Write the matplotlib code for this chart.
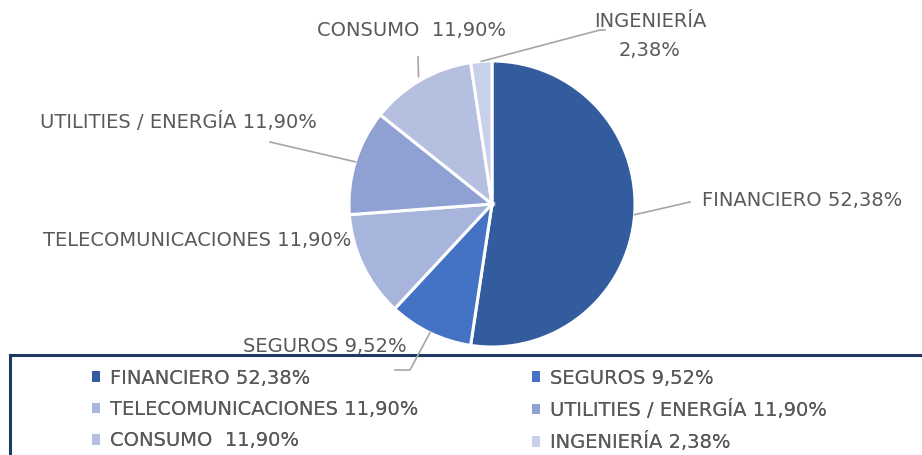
import numpy as np
import matplotlib
matplotlib.use("Agg")
import matplotlib.pyplot as plt
from matplotlib.patches import Rectangle, Patch

sectors = ["FINANCIERO", "SEGUROS", "TELECOMUNICACIONES", "UTILITIES / ENERGÍA", "CONSUMO", "INGENIERÍA"]
shares = [52.38, 9.52, 11.90, 11.90, 11.90, 2.38]
pct_text = ["52,38%", "9,52%", "11,90%", "11,90%", "11,90%", "2,38%"]
colors = ["#335C9E", "#4472C4", "#A7B4DC", "#8FA1D3", "#B5C0E1", "#C9D1EA"]

plt.rcParams['font.family'] = ['DejaVu Sans']
txt_col = "#595959"
fs = 14

W, H = 922, 455
fig = plt.figure(figsize=(W / 100, H / 100), dpi=100)

# pie placement (pixels): centre and radius
cx, cy, r = 492, 204, 143
ax = fig.add_axes([(cx - r) / W, (H - cy - r) / H, 2 * r / W, 2 * r / H])
wedges, _ = ax.pie(shares, colors=colors, startangle=90, counterclock=False,
                   wedgeprops=dict(edgecolor="white", linewidth=2.2))
ax.set_xlim(-1, 1)
ax.set_ylim(-1, 1)
ax.set_aspect("equal")
ax.axis("off")

def fxy(px, py):
    return px / W, 1 - py / H

# label text positions (pixels) and leader paths
labels = [
    dict(txt="FINANCIERO 52,38%", pos=(802, 200), lead=[(690, 202)], gap=0),
    dict(txt="SEGUROS 9,52%", pos=(325, 347), lead=[(410, 370), (395, 370)], gap=0),
    dict(txt="TELECOMUNICACIONES 11,90%", pos=(197, 240), lead=None, gap=0),
    dict(txt="UTILITIES / ENERGÍA 11,90%", pos=(178, 122), lead=[(270, 142)], gap=0),
    dict(txt="CONSUMO  11,90%", pos=(411, 30), lead=[(418, 57)], gap=4),
    dict(txt="INGENIERÍA\n2,38%", pos=(650, 36), lead=[(600, 30), (605, 30)], gap=0),
]

for w, lab in zip(wedges, labels):
    ang = np.deg2rad((w.theta1 + w.theta2) / 2)
    x0 = cx + (r + lab["gap"]) * np.cos(ang)
    y0 = cy - (r + lab["gap"]) * np.sin(ang)
    fig.text(*fxy(*lab["pos"]), lab["txt"], ha="center", va="center",
             fontsize=fs, color=txt_col, linespacing=1.7)
    if lab["lead"]:
        pts = [(x0, y0)] + lab["lead"]
        xs = [p[0] / W for p in pts]
        ys = [1 - p[1] / H for p in pts]
        fig.add_artist(plt.Line2D(xs, ys, color="#A6A6A6", lw=1.2))

# legend frame
fig.add_artist(Rectangle(fxy(10, 470), 930 / W, 115 / H, fill=False,
                         edgecolor="#1F3864", lw=2.2, transform=fig.transFigure,
                         clip_on=False))

handles = [Patch(facecolor=c, edgecolor="none") for c in colors]
leg_labels = [f"{s} {p}" for s, p in zip(sectors, pct_text)]
leg_labels[4] = "CONSUMO  11,90%"

for idx, x_px in (([0, 2, 4], 74), ([1, 3, 5], 514)):
    leg = fig.legend([handles[i] for i in idx], [leg_labels[i] for i in idx],
                     loc="upper left", bbox_to_anchor=fxy(x_px, 351),
                     frameon=False, fontsize=fs, handlelength=0.45, handleheight=0.45,
                     handletextpad=0.5, labelspacing=0.64, labelcolor=txt_col)
    fig.add_artist(leg)

fig.savefig("out.png", dpi=100)
